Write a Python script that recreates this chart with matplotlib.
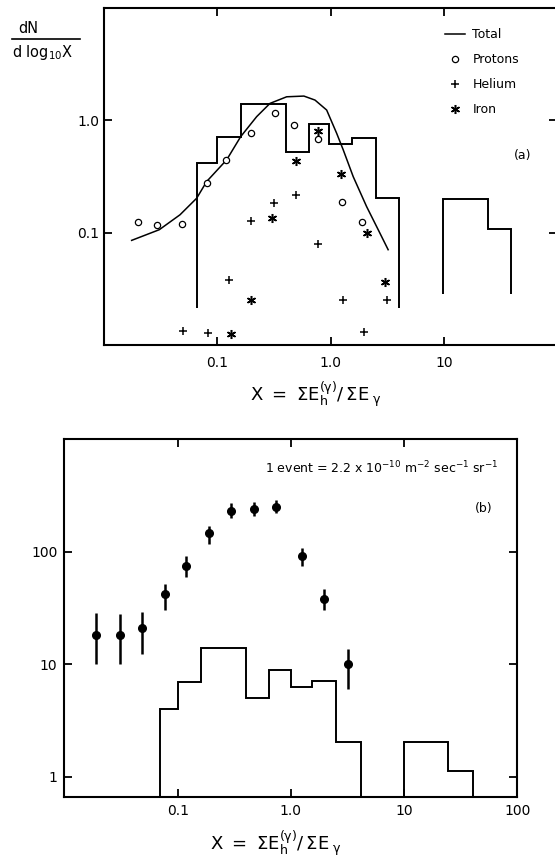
import numpy as np
import matplotlib
matplotlib.use('Agg')
import matplotlib.pyplot as plt
from matplotlib.lines import Line2D

plt.rcParams['font.family'] = ['DejaVu Sans']
plt.rcParams['mathtext.default'] = 'regular'

# ---- panel (a): dN / dlog10 X
hist_a_edges1 = [0.0662, 0.1006, 0.162, 0.405, 0.645, 0.973, 1.56, 2.51, 4.0]
hist_a_vals1 = [0.417, 0.718, 1.40, 0.521, 0.925, 0.614, 0.703, 0.203]
hist_a_edges2 = [9.85, 24.4, 39.3]
hist_a_vals2 = [0.200, 0.108]
hist_a_floor1 = 0.0215
hist_a_floor2 = 0.0285

total_x = [0.0177, 0.031, 0.0472, 0.0662, 0.0811, 0.1216, 0.1617, 0.2236, 0.293, 0.411,
           0.583, 0.730, 0.925, 1.133, 1.295, 1.585, 2.08, 2.72, 3.22]
total_y = [0.0855, 0.1064, 0.1445, 0.203, 0.286, 0.446, 0.718, 1.082, 1.42, 1.626,
           1.65, 1.52, 1.239, 0.769, 0.547, 0.316, 0.171, 0.0995, 0.0706]

proton_x = [0.0202, 0.0299, 0.0488, 0.0818, 0.1194, 0.2004, 0.322, 0.474, 0.773, 1.25, 1.88]
proton_y = [0.1245, 0.1178, 0.119, 0.280, 0.443, 0.769, 1.175, 0.906, 0.681, 0.186, 0.1245]

helium_x = [0.0497, 0.0838, 0.1267, 0.198, 0.318, 0.493, 0.775, 1.293, 1.98, 3.16]
helium_y = [0.0133, 0.0128, 0.038, 0.126, 0.184, 0.215, 0.0787, 0.0254, 0.0131, 0.0254]

iron_x = [0.1315, 0.2004, 0.303, 0.495, 0.769, 1.24, 2.08, 3.04]
iron_y = [0.0124, 0.0254, 0.135, 0.436, 0.807, 0.334, 0.0994, 0.0361]

# ---- panel (b): events
hist_b_edges1 = [0.0695, 0.1, 0.16, 0.40, 0.64, 1.0, 1.55, 2.5, 4.17]
hist_b_vals1 = [4.0, 6.9, 13.9, 5.0, 8.9, 6.2, 7.1, 2.03]
hist_b_edges2 = [10.0, 24.6, 40.5]
hist_b_vals2 = [2.03, 1.12]

ev_x = [0.0192, 0.0308, 0.0485, 0.0781, 0.1175, 0.189, 0.294, 0.473, 0.745, 1.24, 1.945, 3.18]
ev_y = [18.2, 18.2, 20.8, 42.1, 75.1, 145.8, 231, 240, 251, 91.6, 37.7, 10.1]
ev_hi = [28.7, 27.8, 29.3, 51.6, 91.6, 169, 269, 278, 288, 107, 46.3, 13.6]
ev_lo = [9.98, 10.0, 12.3, 30.3, 59.2, 117, 198, 205, 219, 74.6, 30.3, 5.98]

xticks_a = [0.1, 1.0, 10]
xticklabels_a = ['0.1', '1.0', '10']
yticks_a = [0.1, 1.0]
yticklabels_a = ['0.1', '1.0']
xticks_b = [0.1, 1.0, 10, 100]
xticklabels_b = ['0.1', '1.0', '10', '100']
yticks_b = [1, 10, 100]
yticklabels_b = ['1', '10', '100']

xlabel = r'$X\ =\ \Sigma E_{h}^{(\gamma)}/\,\Sigma E_{\ \gamma}$'


def style_axis(ax):
    ax.set_xscale('log')
    ax.set_yscale('log')
    ax.minorticks_off()
    ax.tick_params(which='major', direction='in', length=6, width=1.3,
                   top=True, right=True, labelsize=10)
    for spi in ['bottom', 'left', 'top', 'right']:
        ax.spines[spi].set_linewidth(1.5)
    return ax


fig = plt.figure(figsize=(5.55, 8.67), dpi=100)

# (a)
ax = fig.add_axes([0.1865, 0.6021, 0.818, 0.3884])
ax = style_axis(ax)
ax.set_xlim(0.01, 100)
ax.set_ylim(0.01, 10)
ax.set_xticks(xticks_a, xticklabels_a)
ax.set_yticks(yticks_a, yticklabels_a)
ax.tick_params(axis='x', pad=8)
ax.tick_params(axis='y', pad=3)

ax.stairs(hist_a_vals1, hist_a_edges1, baseline=hist_a_floor1, color='k', lw=1.4)
ax.stairs(hist_a_vals2, hist_a_edges2, baseline=hist_a_floor2, color='k', lw=1.4)
l_tot, = ax.plot(total_x, total_y, c='k', lw=1.1, label='Total')
l_p, = ax.plot(proton_x, proton_y, ls='none', marker='o', ms=4.5, mfc='w', mec='k', mew=0.9, label='Protons')
l_he, = ax.plot(helium_x, helium_y, ls='none', marker='+', ms=6, mec='k', mew=1.1, label='Helium')
l_fe, = ax.plot(iron_x, iron_y, ls='none', marker=(6, 2, 0), ms=6.5, mec='k', mew=1.1, label='Iron')

ax.legend(handles=[l_tot, l_p, l_he, l_fe], frameon=False, loc='upper left',
          bbox_to_anchor=(0.752, 0.94), borderpad=0, borderaxespad=0,
          handlelength=1.6, handletextpad=0.6, labelspacing=0.95, fontsize=9)
ax.text(0.924, 0.564, '(a)', transform=ax.transAxes, ha='center', va='center', fontsize=9)

# y label as a fraction
fig.text(0.0324, 0.9666, 'dN', ha='left', va='center', fontsize=10.5)
fig.add_artist(Line2D([0.0216, 0.144], [0.955, 0.955], transform=fig.transFigure, c='k', lw=1.2))
fig.text(0.0216, 0.9389, r'd log$_{10}$X', ha='left', va='center', fontsize=10.5)

fig.text(0.570, 0.5444, xlabel, ha='center', va='center', fontsize=13)

# (b)
ax = fig.add_axes([0.116, 0.0804, 0.8164, 0.4133])
ax = style_axis(ax)
ax.set_xlim(0.01, 100)
ax.set_ylim(0.656, 1000)
ax.set_xticks(xticks_b, xticklabels_b)
ax.set_yticks(yticks_b, yticklabels_b)
ax.tick_params(axis='x', pad=5)
ax.tick_params(axis='y', pad=5)

ax.stairs(hist_b_vals1, hist_b_edges1, baseline=0.3, color='k', lw=1.4)
ax.stairs(hist_b_vals2, hist_b_edges2, baseline=0.3, color='k', lw=1.4)

ev_y = np.array(ev_y)
yerr = [ev_y - np.array(ev_lo), np.array(ev_hi) - ev_y]
ax.errorbar(ev_x, ev_y, yerr=yerr, fmt='o', color='k', ms=5.5, elinewidth=1.8, capsize=0)

ax.text(0.443, 0.905, r'1 event = 2.2 x 10$^{-10}$ m$^{-2}$ sec$^{-1}$ sr$^{-1}$',
        transform=ax.transAxes, ha='left', va='baseline', fontsize=9)
ax.text(0.926, 0.805, '(b)', transform=ax.transAxes, ha='center', va='center', fontsize=9)

fig.text(0.497, 0.0265, xlabel, ha='center', va='center', fontsize=13)

plt.savefig('out.png', dpi=100)
